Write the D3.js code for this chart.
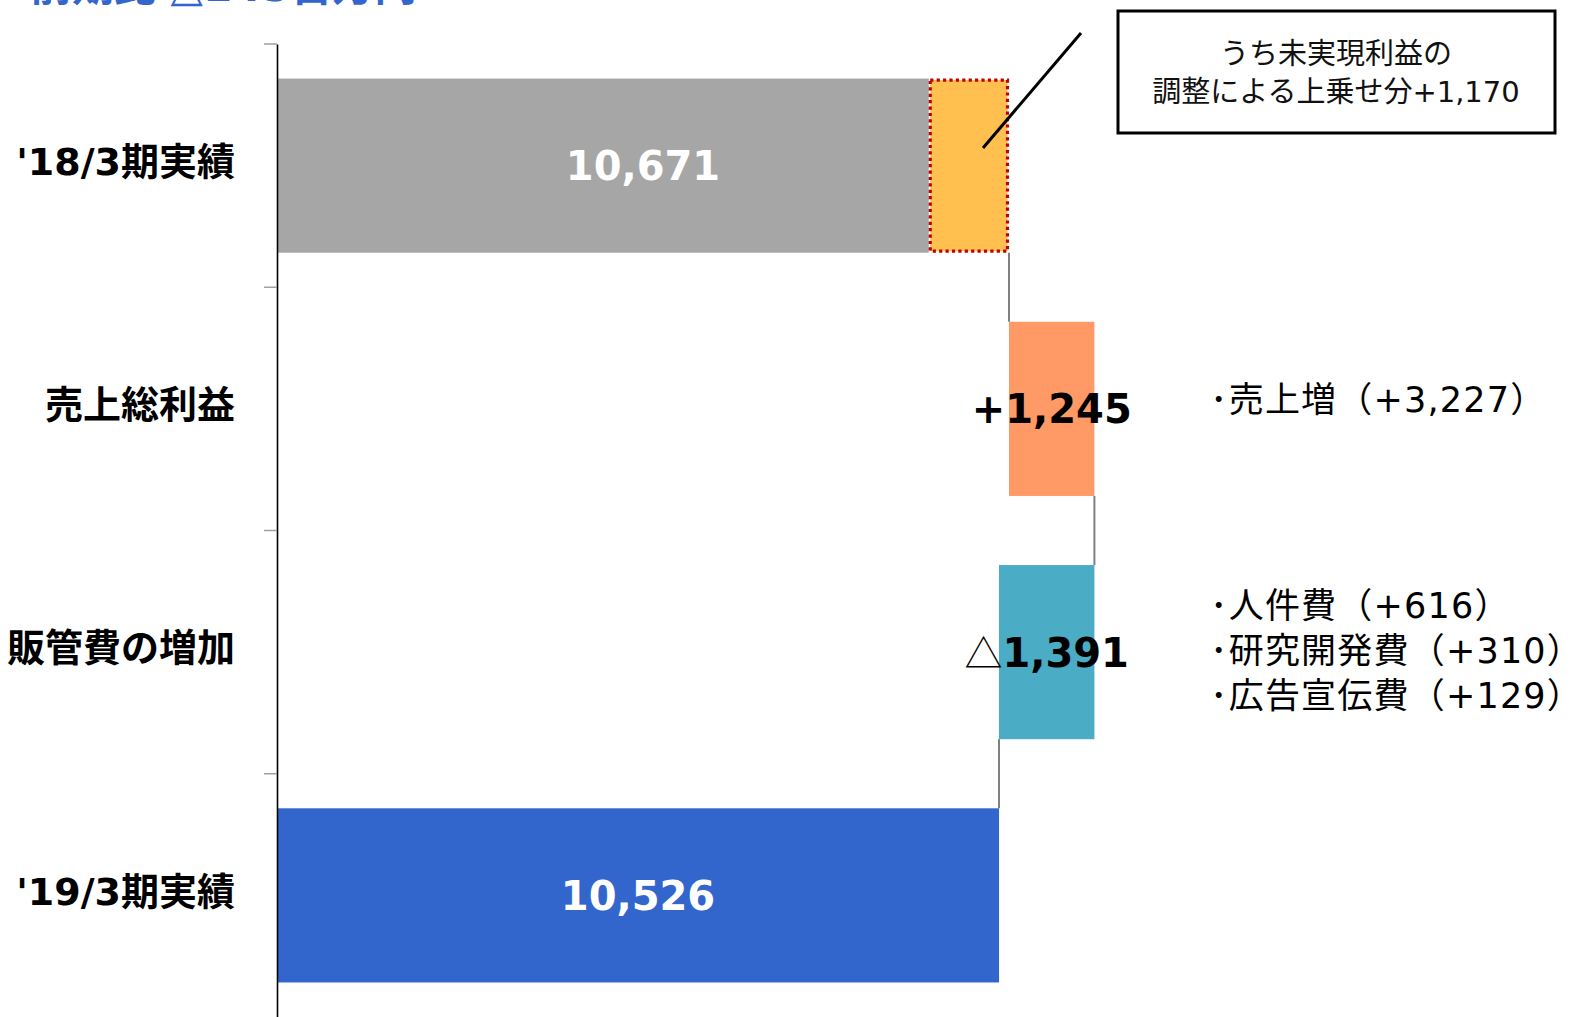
<!DOCTYPE html>
<html><head><meta charset="utf-8">
<script src="https://cdn.jsdelivr.net/npm/d3@7"></script>
<style>
html,body{margin:0;padding:0;background:#fff;overflow:hidden}
svg{display:block}
</style></head>
<body>
<svg id="c" width="1573" height="1017"></svg>
<script>
const categories = ["'18/3期実績", "売上総利益", "販管費の増加", "'19/3期実績"];
const deltas = [10671, 1245, -1391, 10526];
const kinds = ["total", "delta", "delta", "total"];
const valueLabels = ["10,671", "+1,245", "1,391", "10,526"];
const labelPrefix = ["", "", "△", ""];
const unrealized = 1170;
const calloutLines = ["うち未実現利益の", "調整による上乗せ分+1,170"];
const notes = [[], ["･売上増（+3,227）"], ["･人件費（+616）", "･研究開発費（+310）", "･広告宣伝費（+129）"], []];
const titleText = "前期比 △145百万円";
const colors = ["#A6A6A6", "#FF9966", "#4BACC6", "#3366CC"];

const svg = d3.select("#c");
const jp = "'Noto Sans CJK JP','Noto Sans',sans-serif";
const mix = "'DejaVu Sans','Noto Sans CJK JP',sans-serif";
const num = "'DejaVu Sans',Verdana,sans-serif";

const x = d3.scaleLinear().domain([0, 18000]).range([277, 277 + 18000 * 732 / 10671]);
const y = d3.scaleBand().domain(categories).range([44, 1017]).paddingInner(0.284).paddingOuter(0.142);

// title (cut off at top, as in the reference)
svg.append("text").attr("x", 30).attr("y", 1).attr("font-family", mix).attr("font-weight", 700)
  .attr("font-size", 42).attr("fill", "#3366CC").text(titleText);

// waterfall computations
let run = 0;
const bars = categories.map((c, i) => {
  let s, e;
  if (kinds[i] === "total") { s = 0; e = deltas[i]; run = e; }
  else { s = run; e = run + deltas[i]; run = e; }
  return { c, i, s, e };
});

// bars
bars.forEach(b => {
  const lo = Math.min(b.s, b.e), hi = Math.max(b.s, b.e);
  const hiMain = b.i === 0 ? hi - unrealized : hi;
  svg.append("rect").attr("x", x(lo)).attr("y", y(b.c)).attr("width", x(hiMain) - x(lo))
    .attr("height", y.bandwidth()).attr("fill", colors[b.i]);
});
// unrealized part
{
  const b = bars[0];
  svg.append("rect").attr("x", x(b.e - unrealized) + 1.5).attr("y", y(b.c) + 1.5)
    .attr("width", x(b.e) - x(b.e - unrealized) - 3).attr("height", y.bandwidth() - 3)
    .attr("fill", "#FFC04F").attr("stroke", "#C00000").attr("stroke-width", 3.2).attr("stroke-dasharray", "3.2,3.2");
}

// connectors
for (let i = 0; i < bars.length - 1; i++) {
  const v = bars[i].e;
  svg.append("line").attr("x1", x(v)).attr("x2", x(v))
    .attr("y1", y(categories[i]) + y.bandwidth()).attr("y2", y(categories[i + 1]))
    .attr("stroke", "#808080").attr("stroke-width", 2);
}

// axis
const ax = svg.append("g").attr("transform", "translate(277,0)")
  .call(d3.axisLeft(y).tickSize(0).tickSizeOuter(0).tickPadding(42));
ax.select(".domain").attr("stroke", "#000").attr("stroke-width", 1.6);
ax.selectAll(".tick text").attr("font-family", mix).attr("font-weight", 700).attr("font-size", 38)
  .attr("dy", "0.24em").attr("fill", "#000");
// boundary ticks
const bounds = categories.map(c => y(c) - y.step() * y.paddingInner() / 2);
bounds[0] = 44;
svg.selectAll(".bt").data(bounds).enter().append("line")
  .attr("x1", 264).attr("x2", 277).attr("y1", d => d).attr("y2", d => d)
  .attr("stroke", "#A0A0A0").attr("stroke-width", 1.5);

// value labels
bars.forEach(b => {
  const cx = (x(b.s) + x(b.e)) / 2;
  const t = svg.append("text").attr("x", cx).attr("y", y(b.c) + y.bandwidth() / 2)
    .attr("dy", "0.36em").attr("text-anchor", "middle").attr("font-size", 40)
    .attr("fill", kinds[b.i] === "total" ? "#fff" : "#000");
  if (labelPrefix[b.i]) t.append("tspan").attr("font-family", jp).attr("font-weight", 400).attr("font-size", 38).text(labelPrefix[b.i]);
  t.append("tspan").attr("font-family", num).attr("font-weight", 700).text(valueLabels[b.i]);
});

// notes
notes.forEach((lines, i) => {
  const cy = y(categories[i]) + y.bandwidth() / 2;
  const n = lines.length;
  const off = n === 1 ? -9 : -2;
  lines.forEach((l, k) => {
    svg.append("text").attr("x", 1210).attr("y", cy + off + (k - (n - 1) / 2) * 45).attr("dy", "0.36em")
      .attr("font-family", mix).attr("font-size", 35).attr("letter-spacing", 1.2).attr("fill", "#000").text(l);
  });
});

// callout
svg.append("rect").attr("x", 1118).attr("y", 11).attr("width", 437).attr("height", 122)
  .attr("fill", "#fff").attr("stroke", "#000").attr("stroke-width", 3);
calloutLines.forEach((l, k) => {
  svg.append("text").attr("x", 1336).attr("y", 54 + k * 38).attr("dy", "0.36em").attr("text-anchor", "middle")
    .attr("font-family", mix).attr("font-size", 29).attr("fill", "#111").text(l);
});
svg.append("line").attr("x1", 1081).attr("y1", 33).attr("x2", 983).attr("y2", 148)
  .attr("stroke", "#000").attr("stroke-width", 3);
</script>
</body></html>
